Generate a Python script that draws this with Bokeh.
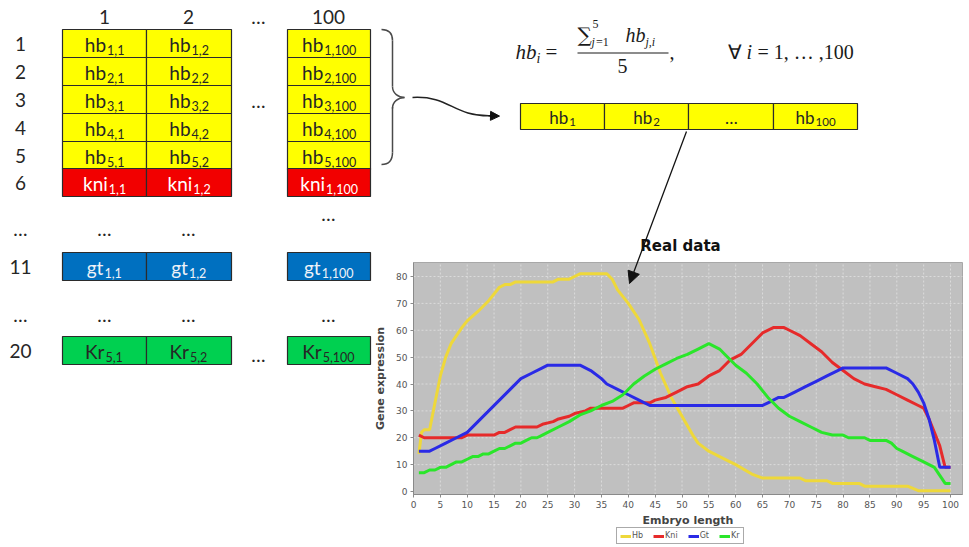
from bokeh.plotting import figure
from bokeh.models import (Range1d, LinearAxis, FixedTicker, Arrow, NormalHead,
                          Legend, LegendItem, ColumnDataSource)
from bokeh.core.properties import value
from bokeh.embed import file_html
from bokeh.resources import INLINE

# ---------------- data (texts and values) ----------------
col_labels = ["1", "2", "…", "100"]
row_labels = ["1", "2", "3", "4", "5", "6", "…", "11", "…", "20"]
row_genes = ["hb", "hb", "hb", "hb", "hb", "kni", "gt", "Kr"]
row_sub = ["1", "2", "3", "4", "5", "1", "1", "5"]
col_sub = ["1", "2", "100"]
bar_main = ["hb", "hb", "…", "hb"]
bar_sub = ["1", "2", "", "100"]

chart_title = "Real data"
x_label = "Embryo length"
y_label = "Gene expression"
x_ticks = list(range(0, 101, 5))
y_ticks = list(range(0, 81, 10))
series_names = ["Hb", "Kni", "Gt", "Kr"]

hb_x = [1, 1.5, 2, 3, 4, 5, 6, 7, 8, 9, 10, 12, 14, 16, 17, 18, 19, 26, 27, 29, 30, 31, 36,
        37, 38, 40, 42, 44, 46, 48, 50, 52, 53, 55, 57, 60, 63, 65, 72, 73, 77, 78, 83, 84,
        92, 94, 100]
hb_y = [14, 22, 23, 23, 33, 43, 50, 55, 58, 61, 63.5, 67, 71, 76, 77, 77, 78, 78, 79, 79, 80,
        81, 81, 79, 75, 70, 64, 55, 44, 35, 28, 21, 18, 15, 13, 10, 6.5, 5, 5, 4, 4, 3, 3, 2,
        2, 0.3, 0.3]

kni_x = [1, 2, 9, 10, 15, 16, 17, 18, 19, 23, 24, 26, 27, 29, 30, 32, 33, 39, 40, 41, 44, 45,
         47, 49, 51, 53, 55, 57, 59, 61, 63, 65, 67, 69, 70, 72, 74, 76, 78, 80, 82, 84, 86,
         88, 90, 92, 94, 95, 96, 97, 98, 99, 100]
kni_y = [21, 20, 20, 21, 21, 22, 22, 23, 24, 24, 25, 26, 27, 28, 29, 30, 31, 31, 32, 33, 33, 34,
         35, 37, 39, 40, 43, 45, 49, 51, 55, 59, 61, 61, 60, 58, 55, 52, 48, 45, 42, 40, 39,
         38, 36, 34, 32, 31, 27, 22, 17, 9, 9]

gt_x = [1, 3, 4, 6, 8, 10, 12, 14, 16, 18, 20, 22, 24, 25, 31, 33, 35, 36, 38, 40, 42, 44, 45,
        65, 66, 68, 69, 71, 73, 75, 77, 79, 80, 88, 90, 92, 93, 94, 95, 96, 97, 98, 100]
gt_y = [15, 15, 16, 18, 20, 22, 26, 30, 34, 38, 42, 44, 46, 47, 47, 45, 42, 40, 38, 36, 34, 32,
        32, 32, 33, 35, 35, 37, 39, 41, 43, 45, 46, 46, 44, 42, 40, 37, 33, 27, 19, 9, 9]

kr_x = [1, 2, 3, 4, 5, 6, 7, 8, 9, 10, 11, 12, 13, 14, 15, 16, 17, 18, 19, 20, 21, 22, 23, 24,
        25, 27, 29, 31, 33, 35, 37, 39, 41, 43, 45, 47, 49, 51, 53, 55, 56, 57, 58, 60, 62,
        64, 66, 68, 70, 72, 74, 76, 78, 80, 81, 84, 85, 88, 89, 90, 91, 93, 95, 97, 98, 99,
        100]
kr_y = [7, 7, 8, 8, 9, 9, 10, 11, 11, 12, 13, 13, 14, 14, 15, 16, 16, 17, 18, 18, 19, 20, 20,
        21, 22, 24, 26, 28.5, 30, 32, 33.5, 36, 40, 43, 45.5, 47.5, 49.5, 51, 53, 55, 54, 53,
        51, 47, 44, 40, 35, 31, 28, 26, 24, 22, 21, 21, 20, 20, 19, 19, 18, 16, 15, 13, 11, 9,
        6, 3, 3]

# ---------------- layout / style constants ----------------
W, H = 969, 547
gene_fill = {"hb": "#ffff00", "kni": "#f20000", "gt": "#0070c0", "Kr": "#00d050"}
gene_text = {"hb": "#262626", "kni": "#ffffff", "gt": "#eef2f8", "Kr": "#262626"}
series_colors = ["#eed83a", "#e62a2a", "#2a2ae6", "#2ae62a"]
DARK = "#262626"
FONT = "Lato"
MATH = "Liberation Serif"

col_edges = [(62, 146), (146, 231), (287, 370)]
col_head_x = [104, 188, 258, 328]
row_tops = [29, 57, 85, 113, 141, 168, 252, 336]
ROW_H = 28
row_label_y = [43, 71, 99, 127, 155, 182, 228, 266, 314, 350]

LW = {'h': .56, 'b': .57, 'k': .52, 'n': .56, 'i': .24, 'g': .51, 't': .34, 'K': .60,
      'r': .37, ',': .23, '…': .80}


def tw(s, size):
    return sum(LW.get(c, .58) for c in s) * size


def bl(y, size, k=0.32):
    """baseline pixel -> y value for Bokeh's alphabetic text placement"""
    return y - k * size


p = figure(width=W, height=H, x_range=Range1d(0, W), y_range=Range1d(H, 0),
           x_axis_type=None, y_axis_type=None, toolbar_location=None,
           output_backend="svg", min_border=0, outline_line_color=None)
p.min_border_left = p.min_border_right = p.min_border_top = p.min_border_bottom = 0
p.background_fill_color = "white"
p.border_fill_color = "white"

# ---------------- left matrix ----------------
q = dict(left=[], right=[], top=[], bottom=[], color=[])
mt = dict(x=[], y=[], text=[], color=[])
st = dict(x=[], y=[], text=[], color=[])
for gene, rs, top in zip(row_genes, row_sub, row_tops):
    for (l, r), cs in zip(col_edges, col_sub):
        q["left"].append(l); q["right"].append(r)
        q["top"].append(top); q["bottom"].append(top + ROW_H)
        q["color"].append(gene_fill[gene])
        sub = f"{rs},{cs}"
        cx = (l + r) / 2
        anchor = cx + (tw(gene, 19) - tw(sub, 12.5) - 1) / 2
        mt["x"].append(anchor); mt["y"].append(bl(top + 21, 19))
        mt["text"].append(gene); mt["color"].append(gene_text[gene])
        st["x"].append(anchor + 1); st["y"].append(bl(top + 24, 12.5))
        st["text"].append(sub); st["color"].append(gene_text[gene])

p.quad(left="left", right="right", top="top", bottom="bottom", fill_color="color",
       line_color="#2b2b2b", line_width=1.2, source=ColumnDataSource(q))
p.text(x="x", y="y", text="text", text_color="color", source=ColumnDataSource(mt),
       text_font=value(FONT), text_font_size="19px", text_align="right",
       text_baseline="alphabetic")
p.text(x="x", y="y", text="text", text_color="color", source=ColumnDataSource(st),
       text_font=value(FONT), text_font_size="12.5px", text_align="left",
       text_baseline="alphabetic")

# headers and row labels
p.text(x=col_head_x, y=[16] * 4, text=col_labels, text_font=value(FONT),
       text_font_size="19px", text_align="center", text_baseline="middle",
       text_color=DARK)
p.text(x=[20] * len(row_labels), y=row_label_y, text=row_labels, text_font=value(FONT),
       text_font_size="19px", text_align="center", text_baseline="middle", text_color=DARK)
# ellipses inside the matrix
ell_x = [258, 104, 188, 328, 104, 188, 328, 258]
ell_y = [100, 228, 228, 213, 314, 314, 314, 354]
p.text(x=ell_x, y=ell_y, text=["…"] * len(ell_x), text_font=value(FONT),
       text_font_size="19px", text_align="center", text_baseline="middle", text_color=DARK)

# brace
p.bezier(x0=[381, 392, 392, 404, 392, 392], y0=[29, 40, 86, 97, 108, 152],
         x1=[392, 392, 404, 392, 392, 381], y1=[40, 86, 97, 108, 152, 164],
         cx0=[389, 392, 392, 398, 392, 392], cy0=[29, 60, 93, 97, 101, 159],
         cx1=[392, 392, 398, 392, 392, 389], cy1=[33, 70, 97, 101, 130, 164],
         line_color="#4a4a4a", line_width=1.5)
# curved arrow
p.bezier(x0=[412], y0=[97], x1=[490], y1=[115.3], cx0=[450], cy0=[95], cx1=[452], cy1=[116],
         line_color="#222", line_width=1.5)
p.add_layout(Arrow(end=NormalHead(size=9, fill_color="#111", line_color="#111"),
                   x_start=488, y_start=115.3, x_end=499, y_end=115.6,
                   line_color="#111", line_width=1.5))

# ---------------- formula ----------------
def mtext(x, y, s, size, style="normal", align="left", font=MATH):
    p.text(x=[x], y=[bl(y, size, 0.36)], text=[s], text_font=value(font),
           text_font_size=f"{size}px", text_font_style=style, text_align=align,
           text_baseline="alphabetic", text_color="#1a1a1a")

mtext(515, 59, "hb", 21, "italic")
mtext(536, 63, "i", 14, "italic")
mtext(545, 59, "=", 21)
mtext(577, 42, "∑", 20, font="DejaVu Serif")
mtext(592, 28, "5", 12)
mtext(591, 46, "j", 12, "italic")
mtext(595.5, 46, "=1", 12)
mtext(625, 42, "hb", 20, "italic")
mtext(645, 46, "j,i", 12, "italic")
p.segment(x0=[577], y0=[52.5], x1=[668], y1=[52.5], line_color="#1a1a1a", line_width=1.1)
mtext(622, 73, "5", 20, align="center")
mtext(669, 59, ",", 20)
mtext(727, 59, "∀", 20)
mtext(746, 59, "i", 20, "italic")
mtext(757, 59, "= 1, … ,100", 20)

# ---------------- averaged hb bar ----------------
bar_edges = [(520, 604), (604, 688), (688, 773), (773, 857)]
p.quad(left=[e[0] for e in bar_edges], right=[e[1] for e in bar_edges],
       top=[103] * 4, bottom=[129] * 4, fill_color="#ffff00", line_color="#2b2b2b",
       line_width=1.2)
bm = dict(x=[], text=[])
bs = dict(x=[], text=[])
for (l, r), m, s in zip(bar_edges, bar_main, bar_sub):
    cx = (l + r) / 2
    anchor = cx + (tw(m, 17) - tw(s, 11.5) - 1) / 2 if s else cx + tw(m, 17) / 2
    bm["x"].append(anchor); bm["text"].append(m)
    bs["x"].append(anchor + 1); bs["text"].append(s)
p.text(x=bm["x"], y=[bl(122, 17)] * 4, text=bm["text"], text_font=value(FONT),
       text_font_size="17px", text_align="right", text_baseline="alphabetic",
       text_color=DARK)
p.text(x=bs["x"], y=[bl(125, 11.5)] * 4, text=bs["text"], text_font=value(FONT),
       text_font_size="11.5px", text_align="left", text_baseline="alphabetic",
       text_color=DARK)

# ---------------- chart (own scales through extra ranges) ----------------
PX_X0, PX_PER_X = 413.0, 5.37      # pixel of x=0 and pixels per unit
PX_Y0, PX_PER_Y = 491.0, 2.6875    # pixel of y=0 and pixels per unit
p.extra_x_ranges = {"cx": Range1d(start=-PX_X0 / PX_PER_X, end=(W - PX_X0) / PX_PER_X)}
p.extra_y_ranges = {"cy": Range1d(start=(PX_Y0 - H) / PX_PER_Y, end=PX_Y0 / PX_PER_Y)}
X_LO, X_HI = 0.0, (962 - PX_X0) / PX_PER_X
Y_LO, Y_HI = (PX_Y0 - 494) / PX_PER_Y, (PX_Y0 - 262) / PX_PER_Y
RN = dict(x_range_name="cx", y_range_name="cy")

p.quad(left=[X_LO], right=[X_HI], bottom=[Y_LO], top=[Y_HI], fill_color="#c0c0c0",
       line_color="#a8a8a8", line_width=1, **RN)
p.segment(x0=x_ticks[1:], y0=[Y_LO] * (len(x_ticks) - 1), x1=x_ticks[1:],
          y1=[Y_HI] * (len(x_ticks) - 1), line_color="white", line_alpha=0.55,
          line_width=0.8, line_dash="2 2", **RN)
p.segment(x0=[X_LO] * (len(y_ticks) - 1), y0=y_ticks[1:], x1=[X_HI] * (len(y_ticks) - 1),
          y1=y_ticks[1:], line_color="white", line_alpha=0.55, line_width=0.8,
          line_dash="2 2", **RN)

series = [(hb_x, hb_y), (kni_x, kni_y), (gt_x, gt_y), (kr_x, kr_y)]
renderers = []
for (sx, sy), c in zip(series, series_colors):
    renderers.append(p.line(sx, sy, line_color=c, line_width=3, **RN))

xaxis = LinearAxis(fixed_location=Y_LO, bounds=(X_LO, X_HI),
                   ticker=FixedTicker(ticks=x_ticks), axis_label=x_label, **RN)
yaxis = LinearAxis(fixed_location=X_LO, bounds=(Y_LO, Y_HI),
                   ticker=FixedTicker(ticks=y_ticks), axis_label=y_label, **RN)
for ax in (xaxis, yaxis):
    ax.axis_line_color = "#8a8a8a"
    ax.major_tick_line_color = "#8a8a8a"
    ax.major_tick_out = 3
    ax.major_tick_in = 0
    ax.minor_tick_out = 0
    ax.minor_tick_in = 0
    ax.major_label_text_font = "DejaVu Sans"
    ax.major_label_text_font_size = "9px"
    ax.major_label_text_color = "#555555"
    ax.major_label_standoff = 3
    ax.axis_label_text_font = "DejaVu Sans"
    ax.axis_label_text_font_size = "11px"
    ax.axis_label_text_font_style = "bold"
    ax.axis_label_text_color = "#444444"
    ax.axis_label_standoff = 3
yaxis.axis_label_standoff = 6
p.add_layout(xaxis, "below")
p.add_layout(yaxis, "left")

p.text(x=[680], y=[245], text=[chart_title], text_font=value("DejaVu Sans"),
       text_font_size="15px", text_font_style="bold", text_align="center",
       text_baseline="middle", text_color="#111111")

legend = Legend(items=[LegendItem(label=n, renderers=[r]) for n, r in zip(series_names, renderers)],
                orientation="horizontal", location=(616, 3))
legend.label_text_font = "DejaVu Sans"
legend.label_text_font_size = "8px"
legend.label_text_color = "#555555"
legend.glyph_width = 11
legend.glyph_height = 8
legend.label_height = 8
legend.label_width = 8
legend.label_standoff = 1
legend.spacing = 10
legend.padding = 3
legend.margin = 0
legend.border_line_color = "#555555"
legend.border_line_width = 1
legend.background_fill_color = "white"
p.add_layout(legend)

# arrow from averaged bar to chart
p.add_layout(Arrow(end=NormalHead(size=12, fill_color="#111", line_color="#111"),
                   x_start=686, y_start=131, x_end=629, y_end=283,
                   line_color="#111", line_width=1.3))

open("out.html", "w").write(file_html(p, INLINE))
